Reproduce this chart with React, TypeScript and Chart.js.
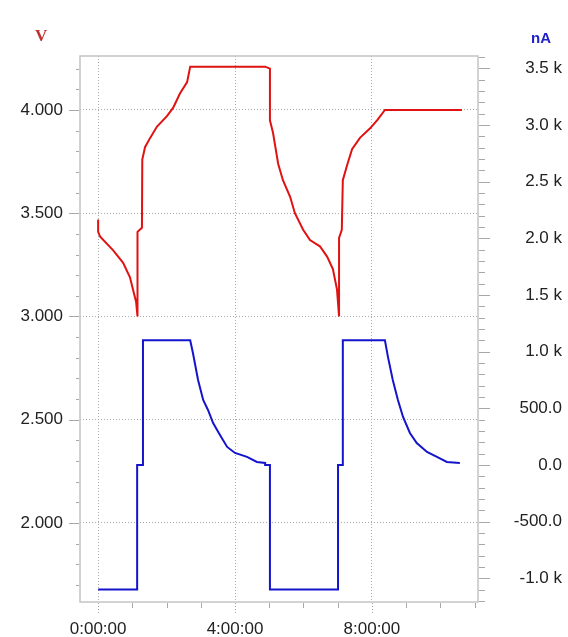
import React, { useEffect, useRef } from "react";
import { Chart, registerables } from "chart.js";

Chart.register(...registerables);

// Time in hours
const voltTimes = [0, 0, 0.06, 0.44, 0.73, 0.93, 1.02, 1.11, 1.15, 1.15, 1.28, 1.29, 1.37, 1.52, 1.72, 2.01, 2.19, 2.39, 2.6, 2.69, 4.88, 5.02, 5.02, 5.11, 5.26, 5.4, 5.61, 5.75, 5.99, 6.19, 6.48, 6.69, 6.86, 6.98, 7.04, 7.04, 7.12, 7.15, 7.27, 7.42, 7.65, 7.94, 8.15, 8.38, 10.63];
const voltValues = [3.47, 3.41, 3.386, 3.32, 3.26, 3.19, 3.13, 3.07, 3.0, 3.41, 3.43, 3.76, 3.82, 3.865, 3.92, 3.97, 4.01, 4.08, 4.135, 4.21, 4.21, 4.2, 3.95, 3.89, 3.74, 3.66, 3.58, 3.5, 3.42, 3.37, 3.34, 3.29, 3.23, 3.13, 3.0, 3.38, 3.42, 3.66, 3.73, 3.81, 3.865, 3.91, 3.95, 4.0, 4.0];

const currentTimes = [0, 1.14, 1.14, 1.31, 1.31, 2.69, 2.77, 2.92, 3.07, 3.21, 3.36, 3.56, 3.77, 4.0, 4.35, 4.64, 4.88, 4.88, 5.02, 5.02, 7.01, 7.01, 7.15, 7.15, 8.38, 8.47, 8.61, 8.76, 8.91, 9.11, 9.31, 9.61, 9.9, 10.19, 10.57];
const currentValues = [-1100, -1100, 0, 0, 1100, 1100, 988, 750, 573, 485, 370, 265, 159, 106, 71, 26, 18, 0, 0, -1100, -1100, 0, 0, 1100, 1100, 952, 750, 573, 423, 282, 194, 115, 71, 26, 18];

// Axis ticks
const timeTicks = [0, 1, 2, 3, 4, 5, 6, 7, 8, 9, 10, 11];
const timeLabelTicks = [0, 4, 8];
const voltTicks = [1.7, 1.8, 1.9, 2.0, 2.1, 2.2, 2.3, 2.4, 2.5, 2.6, 2.7, 2.8, 2.9, 3.0, 3.1, 3.2, 3.3, 3.4, 3.5, 3.6, 3.7, 3.8, 3.9, 4.0, 4.1, 4.2];
const voltLabelTicks = [2.0, 2.5, 3.0, 3.5, 4.0];
const currentLabelTicks = [-1000, -500, 0, 500, 1000, 1500, 2000, 2500, 3000, 3500];
const currentTickStep = 100;

const X_MIN = -0.53, X_MAX = 11.1;
const V_MIN = 1.6174, V_MAX = 4.2615;
const I_MIN = -1210, I_MAX = 3610;

const near = (a: number, list: number[]) => list.some((v) => Math.abs(v - a) < 1e-6);

const fmtTime = (h: number) => `${Math.round(h)}:00:00`;
const fmtCurrent = (v: number) =>
  Math.abs(v) >= 1000 ? `${(v / 1000).toFixed(1)} k` : v.toFixed(1);

const GRID = "#a9a9a9";
const AXIS = "#c4c4c4";
const TICK = "#a8a8a8";

const frameAndTicks = {
  id: "frameAndTicks",
  beforeDatasetsDraw(chart: any) {
    const { ctx, chartArea: a } = chart;
    const xs = chart.scales.x, ys = chart.scales.y, ys1 = chart.scales.y1;
    ctx.save();
    ctx.strokeStyle = AXIS;
    ctx.lineWidth = 1.5;
    ctx.strokeRect(a.left, a.top, a.right - a.left, a.bottom - a.top);
    ctx.strokeStyle = TICK;
    ctx.lineWidth = 1;
    const seg = (x1: number, y1: number, x2: number, y2: number, dash: number[] = []) => {
      ctx.setLineDash(dash);
      ctx.beginPath();
      ctx.moveTo(x1, y1);
      ctx.lineTo(x2, y2);
      ctx.stroke();
    };
    ys.ticks.forEach((t: any) => {
      const p = Math.round(ys.getPixelForValue(t.value)) + 0.5;
      const major = near(t.value, voltLabelTicks);
      seg(a.left - (major ? 11 : 4), p, a.left - 1, p);
    });
    ys1.ticks.forEach((t: any) => {
      const p = Math.round(ys1.getPixelForValue(t.value)) + 0.5;
      const major = near(t.value, currentLabelTicks);
      seg(a.right + 1, p, a.right + (major ? 12 : 7), p);
    });
    xs.ticks.forEach((t: any) => {
      const p = Math.round(xs.getPixelForValue(t.value)) + 0.5;
      const major = near(t.value, timeLabelTicks);
      if (major) seg(p, a.bottom + 1, p, a.bottom + 12, [1, 2]);
      else seg(p, a.bottom + 1, p, a.bottom + 6);
    });
    ctx.restore();
  },
};

export default function App() {
  const ref = useRef<HTMLCanvasElement | null>(null);

  useEffect(() => {
    if (!ref.current) return;
    const currentTicks: number[] = [];
    for (let v = -1200; v <= 3600; v += currentTickStep) currentTicks.push(v);

    const font = { family: "'Liberation Sans', Arial, sans-serif", size: 17 };

    const chart = new Chart(ref.current, {
      type: "line",
      data: {
        datasets: [
          {
            label: "V",
            data: voltTimes.map((t, i) => ({ x: t, y: voltValues[i] })),
            borderColor: "#e01212",
            borderWidth: 2,
            pointRadius: 0,
            tension: 0,
            yAxisID: "y",
          },
          {
            label: "nA",
            data: currentTimes.map((t, i) => ({ x: t, y: currentValues[i] })),
            borderColor: "#1414cc",
            borderWidth: 2,
            pointRadius: 0,
            tension: 0,
            yAxisID: "y1",
          },
        ],
      },
      options: {
        animation: false,
        responsive: false,
        layout: { padding: { top: 56, left: 0, right: 6, bottom: 0 } },
        plugins: { legend: { display: false }, tooltip: { enabled: false } },
        scales: {
          x: {
            type: "linear",
            min: X_MIN,
            max: X_MAX,
            afterBuildTicks: (s: any) => {
              s.ticks = timeTicks.map((v) => ({ value: v }));
            },
            afterFit: (s: any) => {
              s.height = 35;
            },
            ticks: {
              autoSkip: false,
              maxRotation: 0,
              padding: 9,
              color: "#222",
              font,
              callback: (v: any) => (near(Number(v), timeLabelTicks) ? fmtTime(Number(v)) : ""),
            },
            grid: {
              color: (c: any) => (c.tick && near(c.tick.value, timeLabelTicks) ? GRID : "rgba(0,0,0,0)"),
              lineWidth: 1,
              drawTicks: true,
              tickLength: 8,
              tickColor: "rgba(0,0,0,0)",
            },
            border: { display: false, dash: [1, 2] },
          },
          y: {
            type: "linear",
            position: "left",
            min: V_MIN,
            max: V_MAX,
            afterBuildTicks: (s: any) => {
              s.ticks = voltTicks.map((v) => ({ value: v }));
            },
            afterFit: (s: any) => {
              s.width = 80;
            },
            ticks: {
              autoSkip: false,
              padding: 6,
              color: "#222",
              font,
              callback: (v: any) => (near(Number(v), voltLabelTicks) ? Number(v).toFixed(3) : ""),
            },
            grid: {
              color: (c: any) => (c.tick && near(c.tick.value, voltLabelTicks) ? GRID : "rgba(0,0,0,0)"),
              lineWidth: 1,
              drawTicks: true,
              tickLength: 11,
              tickColor: "rgba(0,0,0,0)",
            },
            border: { display: false, dash: [1, 2] },
          },
          y1: {
            type: "linear",
            position: "right",
            min: I_MIN,
            max: I_MAX,
            afterBuildTicks: (s: any) => {
              s.ticks = currentTicks.map((v) => ({ value: v }));
            },
            afterFit: (s: any) => {
              s.width = 84;
            },
            ticks: {
              autoSkip: false,
              padding: 14,
              crossAlign: "far",
              color: "#222",
              font,
              callback: (v: any) => (near(Number(v), currentLabelTicks) ? fmtCurrent(Number(v)) : ""),
            },
            grid: {
              drawOnChartArea: false,
              drawTicks: true,
              tickLength: 12,
              tickColor: "rgba(0,0,0,0)",
            },
            border: { display: false },
          },
        },
      },
      plugins: [frameAndTicks],
    } as any);

    return () => chart.destroy();
  }, []);

  return (
    <div style={{ position: "absolute", left: 0, top: 0, width: 568, height: 637, background: "#fff" }}>
      <canvas ref={ref} width={568} height={637} style={{ width: 568, height: 637, display: "block" }} />
      <span
        style={{
          position: "absolute",
          left: 35,
          top: 26,
          color: "#c23030",
          font: "bold 17px 'Liberation Serif', serif",
        }}
      >
        V
      </span>
      <span
        style={{
          position: "absolute",
          left: 531,
          top: 29,
          color: "#2020c8",
          font: "bold 15px 'Liberation Sans', Arial, sans-serif",
        }}
      >
        nA
      </span>
    </div>
  );
}
